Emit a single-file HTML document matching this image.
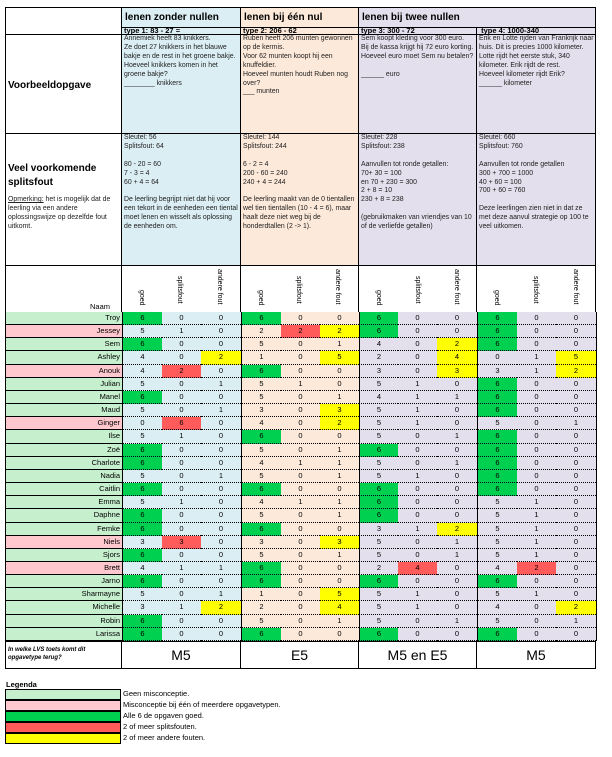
<!DOCTYPE html>
<html><head><meta charset="utf-8"><style>
*{box-sizing:border-box;margin:0;padding:0}
body{width:612px;height:757px;background:#fff;font-family:"Liberation Sans",sans-serif;color:#000;position:relative;overflow:hidden}
.a{position:absolute}
.b{border:1px solid #000}
.t1{background:#dbeef4}.t2{background:#fde9d9}.t3{background:#e4dfec}
.sm{font-size:6.9px;line-height:8.9px;padding-left:2px;color:#222}
.hd{font-size:10px;font-weight:bold;padding-left:3px}
.ty{font-size:7.5px;font-weight:bold;padding-left:2px;line-height:6px;overflow:visible;z-index:2}
#grid{position:absolute;left:5px;top:312px;display:grid;grid-template-columns:116px 40px 39px 40px 40px 39px 39px 39px 39px 40px 40px 39px 40px;grid-auto-rows:13.16px;border-left:1px solid #000;border-right:1px solid #000}
#grid div{font-size:7.5px;text-align:center;line-height:12px;border-bottom:1px dotted #000}
#grid .n{text-align:right;padding-right:2px;border-bottom:1px solid #000;font-size:7.5px}
#grid .s{border-left:1px solid #000}
.g{background:#c6efce}.p{background:#ffc7ce}
#grid div.G{background:#00d050}#grid div.R{background:#ff5b5b}#grid div.Y{background:#ffff00}
.v{position:absolute;writing-mode:vertical-rl;font-size:7px;bottom:2px}
.lg{position:absolute;left:5px;width:116px;height:11px;border:1px solid #000}
.lt{position:absolute;left:123px;font-size:7.5px}
.m{font-size:14px;text-align:center;line-height:27px}
</style></head><body>
<div class="a b" style="left:5px;top:7px;width:117px;height:28px"></div>
<div class="a b t1 hd" style="left:121px;top:7px;width:120px;height:21px;line-height:19px">lenen zonder nullen</div>
<div class="a b t2 hd" style="left:240px;top:7px;width:119px;height:21px;line-height:19px">lenen bij één nul</div>
<div class="a b t3 hd" style="left:358px;top:7px;width:238px;height:21px;line-height:19px">lenen bij twee nullen</div>
<div class="a b" style="left:5px;top:34px;width:117px;height:100px"><div style="font-size:10px;font-weight:bold;padding:45px 0 0 2px">Voorbeeldopgave</div></div>
<div class="a b t1 sm" style="left:121px;top:34px;width:120px;height:100px">Annemiek heeft 83 knikkers.<br>Ze doet 27 knikkers in het blauwe bakje en de rest in het groene bakje.<br>Hoeveel knikkers komen in het groene bakje?<br>________ knikkers</div>
<div class="a b t2 sm" style="left:240px;top:34px;width:119px;height:100px">Ruben heeft 206 munten gewonnen op de kermis.<br>Voor 62 munten koopt hij een knuffeldier.<br>Hoeveel munten houdt Ruben nog over?<br>___ munten</div>
<div class="a b t3 sm" style="left:358px;top:34px;width:119px;height:100px">Sem koopt kleding voor 300 euro.<br>Bij de kassa krijgt hij 72 euro korting.<br>Hoeveel euro moet Sem nu betalen?<br><br>______ euro</div>
<div class="a b t3 sm" style="left:476px;top:34px;width:120px;height:100px">Erik en Lotte rijden van Frankrijk naar huis. Dit is precies 1000 kilometer. Lotte rijdt het eerste stuk, 340 kilometer. Erik rijdt de rest.<br>Hoeveel kilometer rijdt Erik?<br>______ kilometer</div>
<div class="a b t1 ty" style="left:121px;top:27px;width:120px;height:8px">type 1: 83 - 27 =</div>
<div class="a b t2 ty" style="left:240px;top:27px;width:119px;height:8px">type 2: 206 - 62</div>
<div class="a b t3 ty" style="left:358px;top:27px;width:119px;height:8px">type 3: 300 - 72</div>
<div class="a b t3 ty" style="left:476px;top:27px;width:120px;height:8px">&nbsp;type 4: 1000-340</div>
<div class="a b" style="left:5px;top:133px;width:117px;height:133px"><div style="font-size:10px;font-weight:bold;padding:28px 0 0 2px;line-height:14px">Veel voorkomende splitsfout</div><div class="sm" style="padding-top:6px"><u>Opmerking:</u> het is mogelijk dat de leerling via een andere oplossingswijze op dezelfde fout uitkomt.</div></div>
<div class="a b t1 sm" style="left:121px;top:133px;width:120px;height:133px">Sleutel: 56<br>Splitsfout: 64<br><br>80 - 20 = 60<br>7 - 3 = 4<br>60 + 4 = 64<br><br>De leerling begrijpt niet dat hij voor een tekort in de eenheden een tiental moet lenen en wisselt als oplossing de eenheden om.</div>
<div class="a b t2 sm" style="left:240px;top:133px;width:119px;height:133px">Sleutel: 144<br>Splitsfout: 244<br><br>6 - 2 = 4<br>200 - 60 = 240<br>240 + 4 = 244<br><br>De leerling maakt van de 0 tientallen wel tien tientallen (10 - 4 = 6), maar haalt deze niet weg bij de honderdtallen (2 -&gt; 1).</div>
<div class="a b t3 sm" style="left:358px;top:133px;width:119px;height:133px">Sleutel: 228<br>Splitsfout: 238<br><br>Aanvullen tot ronde getallen:<br>70+ 30 = 100<br>en 70 + 230 = 300<br>2 + 8 = 10<br>230 + 8 = 238<br><br>(gebruikmaken van vriendjes van 10 of de verliefde getallen)</div>
<div class="a b t3 sm" style="left:476px;top:133px;width:120px;height:133px">Sleutel: 660<br>Splitsfout: 760<br><br>Aanvullen tot ronde getallen<br>300 + 700 = 1000<br>40 + 60 = 100<br>700 + 60 = 760<br><br>Deze leerlingen zien niet in dat ze met deze aanvul strategie op 100 te veel uitkomen.</div>
<div class="a b" style="left:5px;top:265px;width:591px;height:48px"></div>
<div class="a" style="left:121px;top:265px;width:1px;height:48px;background:#000"></div>
<div class="a" style="left:240px;top:265px;width:1px;height:48px;background:#000"></div>
<div class="a" style="left:358px;top:265px;width:1px;height:48px;background:#000"></div>
<div class="a" style="left:476px;top:265px;width:1px;height:48px;background:#000"></div>
<div class="a" style="left:90px;top:302px;font-size:7.5px">Naam</div>
<div class="v" style="left:138px;top:290px">goed</div><div class="v" style="left:176px;top:276px">splitsfout</div><div class="v" style="left:216px;top:269px">andere fout</div>
<div class="v" style="left:257px;top:290px">goed</div><div class="v" style="left:295px;top:276px">splitsfout</div><div class="v" style="left:334px;top:269px">andere fout</div>
<div class="v" style="left:375px;top:290px">goed</div><div class="v" style="left:414px;top:276px">splitsfout</div><div class="v" style="left:453px;top:269px">andere fout</div>
<div class="v" style="left:493px;top:290px">goed</div><div class="v" style="left:532px;top:276px">splitsfout</div><div class="v" style="left:572px;top:269px">andere fout</div>

<div id="grid">
<div class="n g">Troy</div><div class="s t1 G">6</div><div class="t1">0</div><div class="t1">0</div><div class="s t2 G">6</div><div class="t2">0</div><div class="t2">0</div><div class="s t3 G">6</div><div class="t3">0</div><div class="t3">0</div><div class="s t3 G">6</div><div class="t3">0</div><div class="t3">0</div>
<div class="n p">Jessey</div><div class="s t1">5</div><div class="t1">1</div><div class="t1">0</div><div class="s t2">2</div><div class="t2 R">2</div><div class="t2 Y">2</div><div class="s t3 G">6</div><div class="t3">0</div><div class="t3">0</div><div class="s t3 G">6</div><div class="t3">0</div><div class="t3">0</div>
<div class="n g">Sem</div><div class="s t1 G">6</div><div class="t1">0</div><div class="t1">0</div><div class="s t2">5</div><div class="t2">0</div><div class="t2">1</div><div class="s t3">4</div><div class="t3">0</div><div class="t3 Y">2</div><div class="s t3 G">6</div><div class="t3">0</div><div class="t3">0</div>
<div class="n g">Ashley</div><div class="s t1">4</div><div class="t1">0</div><div class="t1 Y">2</div><div class="s t2">1</div><div class="t2">0</div><div class="t2 Y">5</div><div class="s t3">2</div><div class="t3">0</div><div class="t3 Y">4</div><div class="s t3">0</div><div class="t3">1</div><div class="t3 Y">5</div>
<div class="n p">Anouk</div><div class="s t1">4</div><div class="t1 R">2</div><div class="t1">0</div><div class="s t2 G">6</div><div class="t2">0</div><div class="t2">0</div><div class="s t3">3</div><div class="t3">0</div><div class="t3 Y">3</div><div class="s t3">3</div><div class="t3">1</div><div class="t3 Y">2</div>
<div class="n g">Julian</div><div class="s t1">5</div><div class="t1">0</div><div class="t1">1</div><div class="s t2">5</div><div class="t2">1</div><div class="t2">0</div><div class="s t3">5</div><div class="t3">1</div><div class="t3">0</div><div class="s t3 G">6</div><div class="t3">0</div><div class="t3">0</div>
<div class="n g">Manel</div><div class="s t1 G">6</div><div class="t1">0</div><div class="t1">0</div><div class="s t2">5</div><div class="t2">0</div><div class="t2">1</div><div class="s t3">4</div><div class="t3">1</div><div class="t3">1</div><div class="s t3 G">6</div><div class="t3">0</div><div class="t3">0</div>
<div class="n g">Maud</div><div class="s t1">5</div><div class="t1">0</div><div class="t1">1</div><div class="s t2">3</div><div class="t2">0</div><div class="t2 Y">3</div><div class="s t3">5</div><div class="t3">1</div><div class="t3">0</div><div class="s t3 G">6</div><div class="t3">0</div><div class="t3">0</div>
<div class="n p">Ginger</div><div class="s t1">0</div><div class="t1 R">6</div><div class="t1">0</div><div class="s t2">4</div><div class="t2">0</div><div class="t2 Y">2</div><div class="s t3">5</div><div class="t3">1</div><div class="t3">0</div><div class="s t3">5</div><div class="t3">0</div><div class="t3">1</div>
<div class="n g">Ilse</div><div class="s t1">5</div><div class="t1">1</div><div class="t1">0</div><div class="s t2 G">6</div><div class="t2">0</div><div class="t2">0</div><div class="s t3">5</div><div class="t3">0</div><div class="t3">1</div><div class="s t3 G">6</div><div class="t3">0</div><div class="t3">0</div>
<div class="n g">Zoë</div><div class="s t1 G">6</div><div class="t1">0</div><div class="t1">0</div><div class="s t2">5</div><div class="t2">0</div><div class="t2">1</div><div class="s t3 G">6</div><div class="t3">0</div><div class="t3">0</div><div class="s t3 G">6</div><div class="t3">0</div><div class="t3">0</div>
<div class="n g">Charlote</div><div class="s t1 G">6</div><div class="t1">0</div><div class="t1">0</div><div class="s t2">4</div><div class="t2">1</div><div class="t2">1</div><div class="s t3">5</div><div class="t3">0</div><div class="t3">1</div><div class="s t3 G">6</div><div class="t3">0</div><div class="t3">0</div>
<div class="n g">Nadia</div><div class="s t1">5</div><div class="t1">0</div><div class="t1">1</div><div class="s t2">5</div><div class="t2">0</div><div class="t2">1</div><div class="s t3">5</div><div class="t3">1</div><div class="t3">0</div><div class="s t3 G">6</div><div class="t3">0</div><div class="t3">0</div>
<div class="n g">Caitlin</div><div class="s t1 G">6</div><div class="t1">0</div><div class="t1">0</div><div class="s t2 G">6</div><div class="t2">0</div><div class="t2">0</div><div class="s t3 G">6</div><div class="t3">0</div><div class="t3">0</div><div class="s t3 G">6</div><div class="t3">0</div><div class="t3">0</div>
<div class="n g">Emma</div><div class="s t1">5</div><div class="t1">1</div><div class="t1">0</div><div class="s t2">4</div><div class="t2">1</div><div class="t2">1</div><div class="s t3 G">6</div><div class="t3">0</div><div class="t3">0</div><div class="s t3">5</div><div class="t3">1</div><div class="t3">0</div>
<div class="n g">Daphne</div><div class="s t1 G">6</div><div class="t1">0</div><div class="t1">0</div><div class="s t2">5</div><div class="t2">0</div><div class="t2">1</div><div class="s t3 G">6</div><div class="t3">0</div><div class="t3">0</div><div class="s t3">5</div><div class="t3">1</div><div class="t3">0</div>
<div class="n g">Femke</div><div class="s t1 G">6</div><div class="t1">0</div><div class="t1">0</div><div class="s t2 G">6</div><div class="t2">0</div><div class="t2">0</div><div class="s t3">3</div><div class="t3">1</div><div class="t3 Y">2</div><div class="s t3">5</div><div class="t3">1</div><div class="t3">0</div>
<div class="n p">Niels</div><div class="s t1">3</div><div class="t1 R">3</div><div class="t1">0</div><div class="s t2">3</div><div class="t2">0</div><div class="t2 Y">3</div><div class="s t3">5</div><div class="t3">0</div><div class="t3">1</div><div class="s t3">5</div><div class="t3">1</div><div class="t3">0</div>
<div class="n g">Sjors</div><div class="s t1 G">6</div><div class="t1">0</div><div class="t1">0</div><div class="s t2">5</div><div class="t2">0</div><div class="t2">1</div><div class="s t3">5</div><div class="t3">0</div><div class="t3">1</div><div class="s t3">5</div><div class="t3">1</div><div class="t3">0</div>
<div class="n p">Brett</div><div class="s t1">4</div><div class="t1">1</div><div class="t1">1</div><div class="s t2 G">6</div><div class="t2">0</div><div class="t2">0</div><div class="s t3">2</div><div class="t3 R">4</div><div class="t3">0</div><div class="s t3">4</div><div class="t3 R">2</div><div class="t3">0</div>
<div class="n g">Jarno</div><div class="s t1 G">6</div><div class="t1">0</div><div class="t1">0</div><div class="s t2 G">6</div><div class="t2">0</div><div class="t2">0</div><div class="s t3 G">6</div><div class="t3">0</div><div class="t3">0</div><div class="s t3 G">6</div><div class="t3">0</div><div class="t3">0</div>
<div class="n g">Sharmayne</div><div class="s t1">5</div><div class="t1">0</div><div class="t1">1</div><div class="s t2">1</div><div class="t2">0</div><div class="t2 Y">5</div><div class="s t3">5</div><div class="t3">1</div><div class="t3">0</div><div class="s t3">5</div><div class="t3">1</div><div class="t3">0</div>
<div class="n g">Michelle</div><div class="s t1">3</div><div class="t1">1</div><div class="t1 Y">2</div><div class="s t2">2</div><div class="t2">0</div><div class="t2 Y">4</div><div class="s t3">5</div><div class="t3">1</div><div class="t3">0</div><div class="s t3">4</div><div class="t3">0</div><div class="t3 Y">2</div>
<div class="n g">Robin</div><div class="s t1 G">6</div><div class="t1">0</div><div class="t1">0</div><div class="s t2">5</div><div class="t2">0</div><div class="t2">1</div><div class="s t3">5</div><div class="t3">0</div><div class="t3">1</div><div class="s t3">5</div><div class="t3">0</div><div class="t3">1</div>
<div class="n g">Larissa</div><div class="s t1 G">6</div><div class="t1">0</div><div class="t1">0</div><div class="s t2 G">6</div><div class="t2">0</div><div class="t2">0</div><div class="s t3 G">6</div><div class="t3">0</div><div class="t3">0</div><div class="s t3 G">6</div><div class="t3">0</div><div class="t3">0</div>
</div>
<div class="a b" style="left:5px;top:641px;width:117px;height:28px;font-size:6px;font-style:italic;font-weight:bold;padding:4px 2px;line-height:8px">In welke LVS toets komt dit opgavetype terug?</div>
<div class="a b m" style="left:121px;top:641px;width:120px;height:28px">M5</div>
<div class="a b m" style="left:240px;top:641px;width:119px;height:28px">E5</div>
<div class="a b m" style="left:358px;top:641px;width:119px;height:28px">M5 en E5</div>
<div class="a b m" style="left:476px;top:641px;width:120px;height:28px">M5</div>
<div class="a" style="left:6px;top:680px;font-size:7.5px;font-weight:bold">Legenda</div>
<div class="lg" style="top:689px;background:#c6efce"></div><div class="lt" style="top:689px">Geen misconceptie.</div>
<div class="lg" style="top:700px;background:#ffc7ce"></div><div class="lt" style="top:700px">Misconceptie bij één of meerdere opgavetypen.</div>
<div class="lg" style="top:711px;background:#00d050"></div><div class="lt" style="top:711px">Alle 6 de opgaven goed.</div>
<div class="lg" style="top:722px;background:#ff5b5b"></div><div class="lt" style="top:722px">2 of meer splitsfouten.</div>
<div class="lg" style="top:733px;background:#ffff00"></div><div class="lt" style="top:733px">2 of meer andere fouten.</div>
</body></html>
